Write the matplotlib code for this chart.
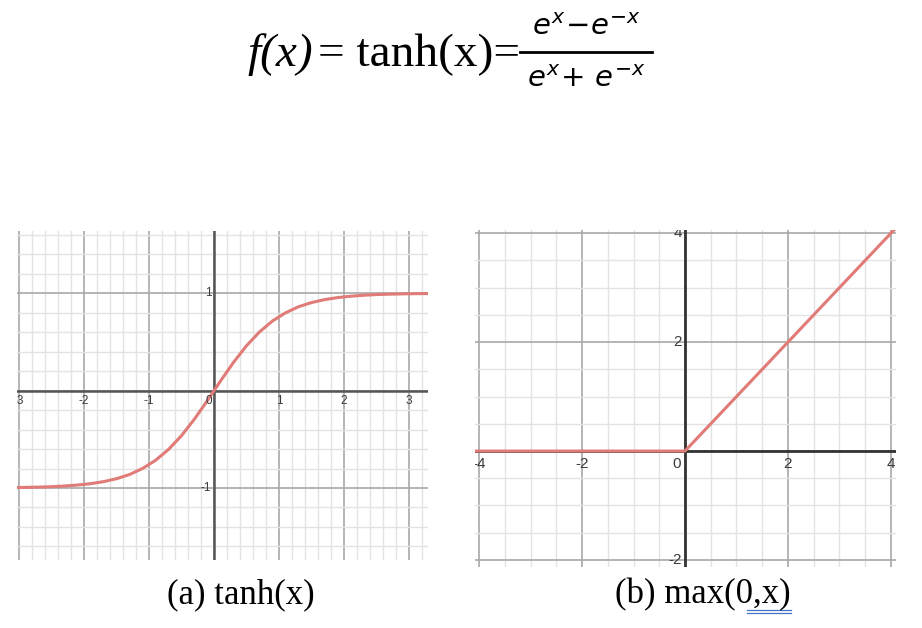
import matplotlib
matplotlib.use("Agg")
import matplotlib.pyplot as plt
from matplotlib.lines import Line2D
import numpy as np

# ---- data ----
tanh_x = [-3.3, -3.1, -2.9, -2.7, -2.5, -2.3, -2.1, -1.9, -1.7, -1.5, -1.3, -1.1,
          -0.9, -0.7, -0.5, -0.3, -0.1, 0.0, 0.1, 0.3, 0.5, 0.7, 0.9, 1.1, 1.3,
          1.5, 1.7, 1.9, 2.1, 2.3, 2.5, 2.7, 2.9, 3.1, 3.3, 3.5]
tanh_y = [-0.997, -0.996, -0.994, -0.991, -0.987, -0.980, -0.970, -0.956, -0.935,
          -0.905, -0.862, -0.800, -0.716, -0.604, -0.462, -0.291, -0.100, 0.0,
          0.100, 0.291, 0.462, 0.604, 0.716, 0.800, 0.862, 0.905, 0.935, 0.956,
          0.970, 0.980, 0.987, 0.991, 0.994, 0.996, 0.997, 0.998]
relu_x = [-4.5, 0.0, 4.5]
relu_y = [0.0, 0.0, 4.5]

left_xticks = [-3, -2, -1, 1, 2, 3]
left_yticks = [-1, 1]
right_xticks = [-4, -2, 2, 4]
right_yticks = [-2, 2, 4]

caption_a = "(a) tanh(x)"
caption_b = "(b) max(0,x)"

W, H = 922, 628
fig = plt.figure(figsize=(W / 100, H / 100), dpi=100)
fig.patch.set_facecolor("white")

CURVE = "#e07b78"
MAJOR = "#a8a8a8"
MINOR = "#e3e3e3"


def px_axes(l, t, r, b):
    return fig.add_axes([l / W, 1 - b / H, (r - l) / W, (b - t) / H])


def setup(ax, xlim, ylim, major_step, minor_step, axcol, axlw):
    ax.set_xticks(np.arange(-10, 10.01, major_step))
    ax.set_yticks(np.arange(-10, 10.01, major_step))
    ax.set_xticks(np.arange(-10, 10.01, minor_step), minor=True)
    ax.set_yticks(np.arange(-10, 10.01, minor_step), minor=True)
    ax.set_xlim(*xlim)
    ax.set_ylim(*ylim)
    ax.grid(which="minor", color=MINOR, lw=1.0, zorder=0)
    ax.grid(which="major", color=MAJOR, lw=1.2, zorder=1)
    ax.set_axisbelow(True)
    ax.tick_params(which="both", length=0, labelbottom=False, labelleft=False)
    for s in ax.spines.values():
        s.set_visible(False)
    ax.axhline(0, color=axcol, lw=axlw, zorder=2)
    ax.axvline(0, color=axcol, lw=axlw, zorder=2)


lab_kw = dict(family="Liberation Sans", color="#3a3a3a", clip_on=True, zorder=4)

# ---- left: tanh ----
ax1 = px_axes(17, 231, 428, 560)
setup(ax1, (-3.03, 3.29), (-1.74, 1.64), 1, 0.2, "#555555", 1.8)
ax1.plot(tanh_x, tanh_y, color=CURVE, lw=2.2, zorder=3, solid_joinstyle="round")
for v in left_xticks:
    ax1.text(v, -0.11, str(v), ha="center", va="center", fontsize=8.5, **lab_kw)
ax1.text(-0.08, -0.11, "0", ha="center", va="center", fontsize=8.5, **lab_kw)
for v in left_yticks:
    ax1.text(-0.04, v, str(v), ha="right", va="center", fontsize=8.5, **lab_kw)

# ---- right: ReLU ----
ax2 = px_axes(475, 230, 896, 567)
setup(ax2, (-4.08, 4.1), (-2.13, 4.06), 2, 0.5, "#333333", 2.0)
ax2.plot(relu_x, relu_y, color=CURVE, lw=2.2, zorder=3)
for v in right_xticks:
    ax2.text(v, -0.23, str(v), ha="center", va="center", fontsize=11, **lab_kw)
ax2.text(-0.16, -0.23, "0", ha="center", va="center", fontsize=11, **lab_kw)
for v in right_yticks:
    ax2.text(-0.06, v, str(v), ha="right", va="center", fontsize=11, **lab_kw)

# ---- title formula ----
serif = "Liberation Serif"
fig.text(247 / W, 1 - 66 / H, "f(x)", family=serif, style="italic", fontsize=34,
         ha="left", va="baseline")
fig.text(318 / W, 1 - 66 / H, "= tanh(x)=", family=serif, fontsize=34,
         ha="left", va="baseline")
plt.rcParams["mathtext.fontset"] = "dejavusans"
fig.text(586 / W, 1 - 35 / H, r"$e^{x}\!-\!e^{-x}$", fontsize=21,
         ha="center", va="baseline")
fig.text(586 / W, 1 - 87 / H, r"$e^{x}\!+\,e^{-x}$", fontsize=21,
         ha="center", va="baseline")
fig.add_artist(Line2D([520 / W, 652 / W], [1 - 52 / H, 1 - 52 / H], color="black", lw=2.0))

# ---- captions ----
fig.text(241 / W, 1 - 595 / H, caption_a, family=serif, fontsize=25, ha="center", va="center")
fig.text(703 / W, 1 - 595 / H, caption_b, family=serif, fontsize=25, ha="center", va="center")
for yy in (609.5, 612.8):
    fig.add_artist(Line2D([747 / W, 791 / W], [1 - yy / H, 1 - yy / H], color="#4472c4", lw=0.9))

fig.savefig("out.png", dpi=100)
